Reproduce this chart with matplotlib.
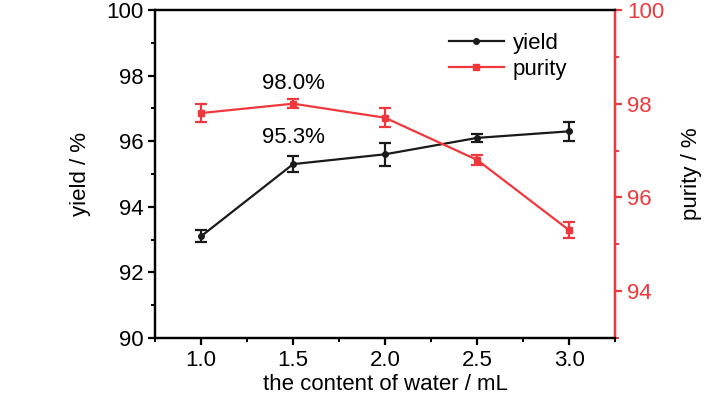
import matplotlib.pyplot as plt
from matplotlib.ticker import MultipleLocator
from matplotlib.lines import Line2D

plt.rcParams['font.family'] = ['Liberation Sans', 'DejaVu Sans']

water = [1.0, 1.5, 2.0, 2.5, 3.0]
yield_vals = [93.1, 95.3, 95.6, 96.1, 96.3]
yield_err = [0.18, 0.25, 0.35, 0.13, 0.28]
purity_vals = [97.8, 98.0, 97.7, 96.8, 95.3]
purity_err = [0.2, 0.1, 0.2, 0.1, 0.17]

red = '#f0383c'
black = '#1a1a1a'

fig = plt.figure(figsize=(7.28, 3.99), dpi=100)
ax = fig.add_axes([0.213, 0.153, 0.632, 0.822])
ax2 = ax.twinx()

ax.errorbar(water, yield_vals, yerr=yield_err, color=black, lw=1.6,
            marker='o', ms=4, capsize=4, capthick=1.6, elinewidth=1.6)
ax2.errorbar(water, purity_vals, yerr=purity_err, color=red, lw=1.6,
             marker='s', ms=4, capsize=4, capthick=1.6, elinewidth=1.6)

ax.set_xlim(0.75, 3.25)
ax.set_ylim(90, 100)
ax2.set_ylim(93, 100)

ax.xaxis.set_major_locator(MultipleLocator(0.5))
ax.xaxis.set_minor_locator(MultipleLocator(0.25))
ax.yaxis.set_major_locator(MultipleLocator(2))
ax.yaxis.set_minor_locator(MultipleLocator(1))
ax2.yaxis.set_major_locator(MultipleLocator(2))
ax2.yaxis.set_minor_locator(MultipleLocator(1))
ax.xaxis.set_major_formatter(plt.FormatStrFormatter('%.1f'))

for a in (ax, ax2):
    for s in a.spines.values():
        s.set_linewidth(1.6)
ax2.spines['right'].set_color(red)
ax.tick_params(which='major', direction='out', length=5, width=1.6, labelsize=16)
ax.tick_params(which='minor', direction='out', length=3, width=1.4)
ax2.tick_params(which='major', direction='out', length=5, width=1.6, labelsize=16,
                colors=red)
ax2.tick_params(which='minor', direction='out', length=3, width=1.4, colors=red)

ax.set_xlabel('the content of water / mL', fontsize=16, labelpad=2)
ax.set_ylabel('yield / %', fontsize=16, labelpad=11)
ax2.set_ylabel('purity / %', fontsize=16, labelpad=12)

ax.text(1.5, 97.75, '98.0%', ha='center', va='center', fontsize=16)
ax.text(1.5, 96.1, '95.3%', ha='center', va='center', fontsize=16)

handles = [Line2D([], [], color=black, lw=1.6, marker='o', ms=4),
           Line2D([], [], color=red, lw=1.6, marker='s', ms=4)]
ax.legend(handles, ['yield', 'purity'], loc='upper right',
          bbox_to_anchor=(0.94, 0.99), frameon=False, fontsize=16,
          handlelength=2.5, handletextpad=0.4, labelspacing=0.2)

fig.savefig('out.png', dpi=100)
